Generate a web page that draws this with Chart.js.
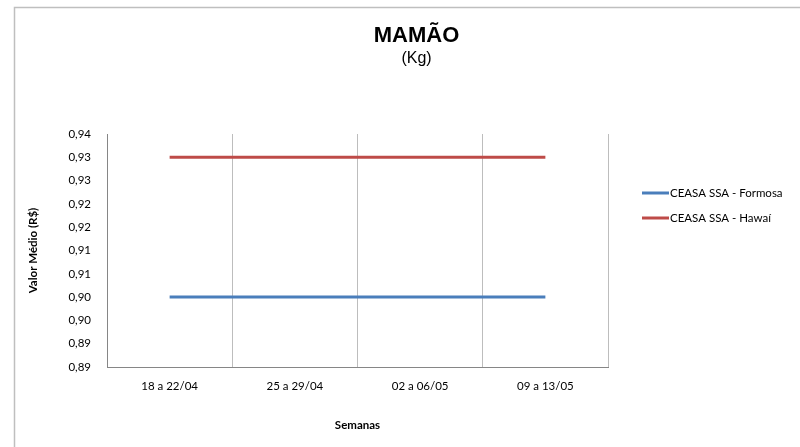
<!DOCTYPE html>
<html>
<head>
<meta charset="utf-8">
<script src="https://cdn.jsdelivr.net/npm/chart.js@4/dist/chart.umd.min.js"></script>
<style>
  html, body { margin: 0; padding: 0; background: #fff; }
  #wrap { width: 800px; height: 447px; position: relative; }
</style>
</head>
<body>
<div id="wrap"><canvas id="chart"></canvas></div>
<script>
// Chart data
const semanas = ['18 a 22/04', '25 a 29/04', '02 a 06/05', '09 a 13/05'];
const formosa = [0.90, 0.90, 0.90, 0.90];
const hawai = [0.93, 0.93, 0.93, 0.93];
const seriesNames = ['CEASA SSA - Formosa', 'CEASA SSA - Hawaí'];
const yMin = 0.885;
const yMax = 0.935;
const yStep = 0.005;

Chart.defaults.font.family = 'Lato, "Open Sans", sans-serif';
Chart.defaults.color = '#000';

// Frame, title and legend drawn by hand to sit where the reference has them
const decor = {
    id: 'decor',
    beforeDraw(chart) {
        const ctx = chart.ctx;
        ctx.save();
        ctx.strokeStyle = '#bfbfbf';
        ctx.lineWidth = 1.5;
        ctx.strokeRect(14.5, 7.5, 1000, 1000);
        ctx.restore();
    },
    afterDraw(chart) {
        const ctx = chart.ctx;
        ctx.save();
        ctx.fillStyle = '#000';
        ctx.textAlign = 'center';
        ctx.textBaseline = 'alphabetic';
        ctx.font = 'bold 22px "Liberation Sans", Arial, sans-serif';
        ctx.fillText('MAMÃO', 416.5, 42);
        ctx.font = '16px "Liberation Sans", Arial, sans-serif';
        ctx.fillText('(Kg)', 416.5, 63);

        // legend
        ctx.textAlign = 'left';
        ctx.textBaseline = 'middle';
        ctx.font = '11.5px Lato, sans-serif';
        chart.data.datasets.forEach((ds, i) => {
            const y = 193 + i * 25;
            ctx.strokeStyle = ds.borderColor;
            ctx.lineWidth = 3;
            ctx.beginPath();
            ctx.moveTo(642, y);
            ctx.lineTo(669, y);
            ctx.stroke();
            ctx.fillText(ds.label, 670, y);
        });
        ctx.restore();
    }
};

new Chart(document.getElementById('chart'), {
    type: 'line',
    data: {
        labels: semanas,
        datasets: [{
            label: seriesNames[0],
            data: formosa,
            borderColor: '#4A7EBB',
            backgroundColor: '#4A7EBB',
            borderWidth: 3,
            pointRadius: 0,
            fill: false
        }, {
            label: seriesNames[1],
            data: hawai,
            borderColor: '#BE4B48',
            backgroundColor: '#BE4B48',
            borderWidth: 3,
            pointRadius: 0,
            fill: false
        }]
    },
    options: {
        responsive: true,
        maintainAspectRatio: false,
        animation: false,
        layout: {
            padding: { top: 134, right: 192, left: 0, bottom: 0 }
        },
        plugins: {
            legend: { display: false },
            title: { display: false },
            tooltip: { enabled: false }
        },
        scales: {
            x: {
                offset: true,
                afterFit: scale => { scale.height = 80; },
                grid: {
                    display: true,
                    offset: true,
                    color: '#bdbdbd',
                    lineWidth: 1,
                    drawTicks: false
                },
                border: { display: true, color: '#868686', width: 1 },
                ticks: {
                    padding: 12,
                    font: { size: 11.5 },
                    maxRotation: 0
                },
                title: {
                    display: true,
                    text: 'Semanas',
                    font: { size: 11.5, weight: 'bold' },
                    padding: { top: 0, bottom: 15 }
                }
            },
            y: {
                min: yMin,
                max: yMax,
                afterFit: scale => { scale.width = 107; },
                grid: { display: false, drawTicks: false },
                border: { display: true, color: '#868686', width: 1 },
                ticks: {
                    stepSize: yStep,
                    padding: 16,
                    font: { size: 11.5 },
                    callback: v => (Math.round(v * 100 + 1e-6) / 100).toFixed(2).replace('.', ',')
                },
                title: {
                    display: true,
                    text: 'Valor Médio (R$)',
                    font: { size: 11.5, weight: 'bold' },
                    padding: { top: 26, bottom: 0 }
                }
            }
        }
    },
    plugins: [decor]
});
</script>
</body>
</html>
